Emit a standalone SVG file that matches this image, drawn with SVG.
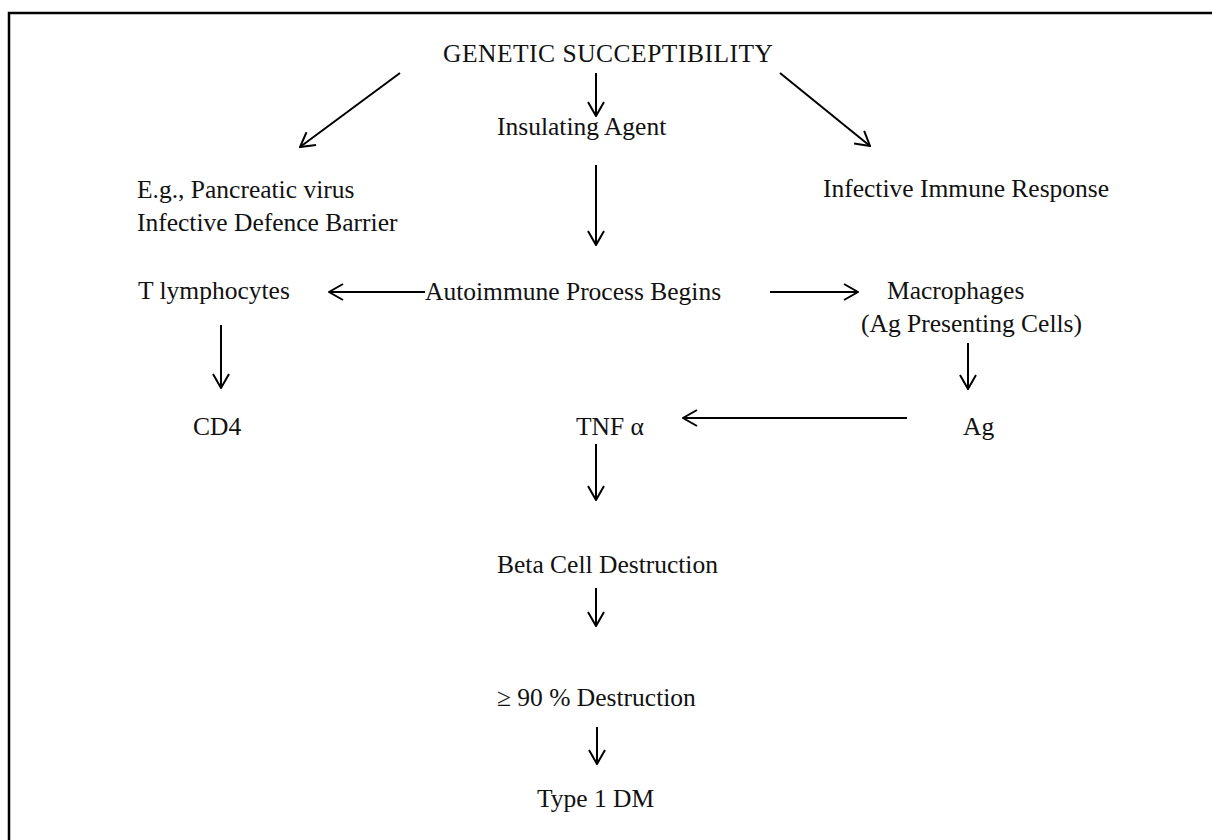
<svg xmlns="http://www.w3.org/2000/svg" width="1212" height="840" viewBox="0 0 1212 840">
  <style>
    .lbl { font-family: "Liberation Serif", "Times New Roman", serif; font-size: 25.5px; fill: #111; }
    .edge { stroke: #000; stroke-width: 2; fill: none; marker-end: url(#head); }
  </style>
  <defs>
    <marker id="head" viewBox="0 0 16 18" refX="15" refY="9" markerWidth="16" markerHeight="18" markerUnits="userSpaceOnUse" orient="auto">
      <path d="M1,1 L15,9 L1,17" fill="none" stroke="#000" stroke-width="2"/>
    </marker>
  </defs>
  <rect width="1212" height="840" fill="#fff"/>
  <!-- frame: open on the right and bottom -->
  <path d="M9,840 L9,13 L1212,13" fill="none" stroke="#000" stroke-width="2.5"/>

  <g id="connectors">
    <line class="edge" x1="400" y1="73" x2="300" y2="147"/>
    <line class="edge" x1="596" y1="73" x2="596" y2="116"/>
    <line class="edge" x1="780" y1="73" x2="870" y2="146"/>
    <line class="edge" x1="596" y1="165" x2="596" y2="245"/>
    <line class="edge" x1="425" y1="292" x2="329" y2="292"/>
    <line class="edge" x1="770" y1="292" x2="858" y2="292"/>
    <line class="edge" x1="221" y1="325" x2="221" y2="388"/>
    <line class="edge" x1="968" y1="343" x2="968" y2="389"/>
    <line class="edge" x1="907" y1="418" x2="683" y2="418"/>
    <line class="edge" x1="596" y1="444" x2="596" y2="500"/>
    <line class="edge" x1="596" y1="588" x2="596" y2="626"/>
    <line class="edge" x1="597" y1="727" x2="597" y2="764"/>
  </g>

  <g id="genetic"><text class="lbl" x="443" y="62" textLength="330" lengthAdjust="spacing">GENETIC SUCCEPTIBILITY</text></g>
  <g id="insulating"><text class="lbl" x="497" y="135">Insulating Agent</text></g>
  <g id="pancreatic">
    <text class="lbl" x="137" y="198">E.g., Pancreatic virus</text>
    <text class="lbl" x="137" y="231">Infective Defence Barrier</text>
  </g>
  <g id="immune-response"><text class="lbl" x="823" y="197">Infective Immune Response</text></g>
  <g id="t-lymphocytes"><text class="lbl" x="138" y="299">T lymphocytes</text></g>
  <g id="autoimmune"><text class="lbl" x="425" y="300">Autoimmune Process Begins</text></g>
  <g id="macrophages">
    <text class="lbl" x="887" y="299">Macrophages</text>
    <text class="lbl" x="861" y="332">(Ag Presenting Cells)</text>
  </g>
  <g id="cd4"><text class="lbl" x="193" y="435">CD4</text></g>
  <g id="tnf"><text class="lbl" x="576" y="435">TNF α</text></g>
  <g id="ag"><text class="lbl" x="963" y="435">Ag</text></g>
  <g id="beta"><text class="lbl" x="497" y="573">Beta Cell Destruction</text></g>
  <g id="ninety"><text class="lbl" x="497" y="706">≥ 90 % Destruction</text></g>
  <g id="type1"><text class="lbl" x="537" y="807">Type 1 DM</text></g>
</svg>
